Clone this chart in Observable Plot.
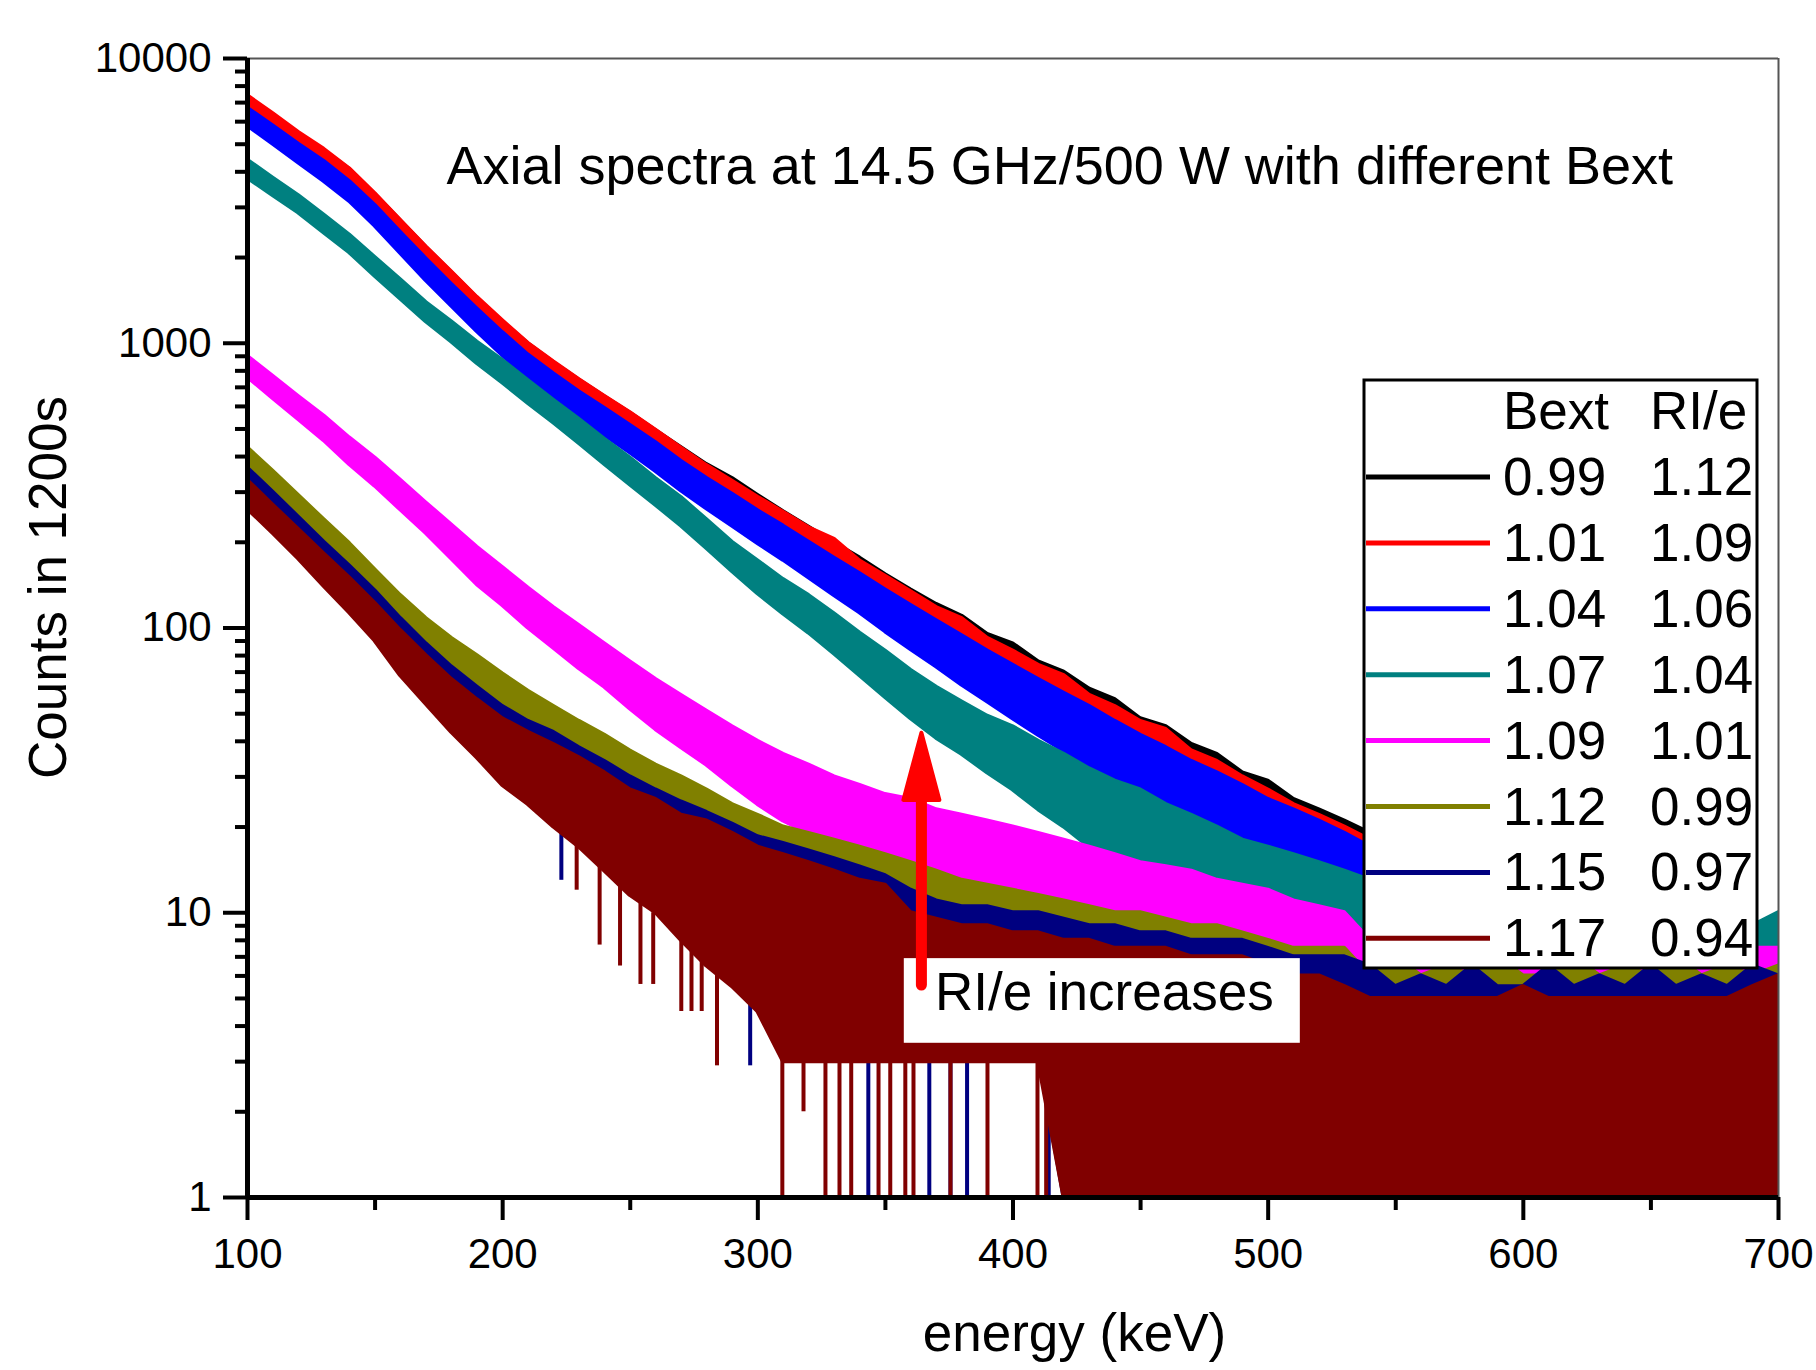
<!DOCTYPE html>
<html>
<head>
<meta charset="utf-8">
<script src="https://cdn.jsdelivr.net/npm/d3@7"></script>
<script src="https://cdn.jsdelivr.net/npm/@observablehq/plot@0.6"></script>
<style>
html, body { margin: 0; padding: 0; background: #fff; }
#chart { position: relative; width: 1816px; height: 1370px; }
</style>
</head>
<body>
<div id="chart"></div>
<script>
// ---- data (counts per 10 keV sample: lower / upper edge of each noisy spectrum) ----
const energy = [100,110,120,130,140,150,160,170,180,190,
  200,210,220,230,240,250,260,270,280,290,
  300,310,320,330,340,350,360,370,380,390,
  400,410,420,430,440,450,460,470,480,490,
  500,510,520,530,540,550,560,570,580,590,
  600,610,620,630,640,650,660,670,680,690,
  700];

const bextLabels = ["0.99","1.01","1.04","1.07","1.09","1.12","1.15","1.17"];
const rieLabels  = ["1.12","1.09","1.06","1.04","1.01","0.99","0.97","0.94"];
const seriesColors = ["#000000","#ff0000","#0000ff","#008080","#ff00ff","#808000","#000080","#800000"];

const blackHi = [7300,6350,5450,4750,4080,3330,2690,2170,1770,1440,
  1190,995,855,742,648,568,493,430,375,335,
  292,256,226,199,176,154,136,121,110,95,
  88,76,70,61,56,48,45,39,36,31,
  29,25,23,21,19,17,15.5,14,13,12,
  11,10.5,10,9.5,9,9,8.5,8,8,8,
  8];
const blackLo = [6450,5550,4750,4150,3550,2900,2330,1880,1530,1240,
  1020,850,725,625,540,470,405,350,300,262,
  228,200,174,151,131,114,99,86,75,66,
  57,50,44,38,34,29,25,22,19,17,
  15,13.5,12,11,10,9,8,7,6.5,6,
  5.5,5,4.5,4,4,3.5,3.5,3,3,3,
  3];

const redHi = [7400,6400,5500,4800,4100,3350,2700,2180,1780,1450,
  1200,1000,860,745,650,570,495,428,372,328,
  288,255,225,205,172,152,134,118,108,92,
  83,74,68,58,53,47,44,37,34,30,
  27,24,22,20,18,16,15,14,13,12,
  11,10.5,10,9.5,9,9,8.5,8,8,8,
  8];
const redLo = [6500,5600,4800,4200,3580,2920,2350,1890,1540,1250,
  1030,855,730,630,545,475,410,352,303,265,
  230,202,176,153,133,115,100,87,76,67,
  58,51,45,39,35,30,26,23,20,17.5,
  15.5,14,12.5,11,10,9,8,7,6.5,6,
  5.5,5,4.5,4,4,3.5,3.5,3,3,3,
  3];

const blueHi = [6700,5800,5000,4350,3700,3050,2450,1980,1610,1320,
  1090,910,780,675,590,515,448,385,335,295,
  258,228,200,176,155,136,120,106,94,83,
  74,66,59,53,47,42,38,34,31,28,
  25,23,21,19,17,15.5,14,13,12,11.5,
  11,10.5,10,9.5,9,9,8.5,8,8,7.5,
  7.5];
const blueLo = [5800,5000,4300,3700,3150,2580,2070,1660,1350,1100,
  905,750,640,550,475,412,355,303,262,228,
  198,173,150,130,113,97,84,73,63,55,
  48,42,37,32,28,25,22,19,17,15,
  13,12,11,10,9,8,7,6.5,6,5.5,
  5,5,4.5,4,4,3.5,3.5,3,3,3,
  3];

const tealHi = [4400,3800,3300,2820,2400,2000,1670,1390,1190,1010,
  870,740,630,540,460,395,335,287,240,200,
  172,148,130,112,96,83,71,62,55,49,
  45,40,36,32,29,27,24,22,20,18,
  17,16,15,14,13,12,11,10.5,10,10,
  9.5,9.5,9,9,9,8.5,8.5,8.5,8.5,9,
  10];
const tealLo = [3800,3300,2870,2440,2080,1720,1430,1190,1010,850,
  725,615,525,445,375,318,270,228,190,158,
  132,112,96,81,68,57,48,41,36,31,
  27,23,20,17,13,11,10,9.5,9,8,
  7,6.5,6,6,5.5,5,4.5,4.5,4,4,
  4,4,4,4,4,4,4,4,4,4,
  5];

const magentaHi = [900,765,650,555,465,395,330,275,230,192,
  163,138,118,102,88,76,66,58,51,45,
  40,36,33,30,28,26,25,23,22,21,
  20,19,18,17,16,15,14.5,14,13,12.5,
  12,11,10.5,10,8,7,8,7.5,7,8,
  7.5,7,8,7,8,7.5,7,8,7,7.5,
  7.5];
const magentaLo = [760,640,540,455,375,315,260,215,175,142,
  120,100,85,72,62,52,44,38,33,28,
  24,21,19,17,15.5,14.5,13.5,12.5,12,11,
  10.5,10,9.5,9,8.5,8,7.5,7,6.5,6,
  5.5,5,5,4.5,4,3.5,3.5,3.5,3.5,3.5,
  3.5,3.5,3.5,3.5,3.5,3.5,3.5,3.5,3.5,3.5,
  3.5];

const oliveHi = [430,355,292,240,198,160,130,108,92,80,
  69,60,53,47,42,37,33,30,27,24,
  22,20,19,18,17,16,15,14,13,12.5,
  12,11.5,11,10.5,10,10,9.5,9,9,8.5,
  8,7.5,7.5,7.5,6,7,6,6.5,6,7,
  6,6,7,6,6.5,6,7,6,6.5,6,
  6.5];
const oliveLo = [365,300,245,200,165,132,104,86,72,61,
  53,46,40,35,31,27,24,21,18,16,
  15,13,12,11,10,9,8.5,8,7.5,7,
  6.5,6,6,5.5,5.5,5,5,5,4.5,4.5,
  4,3.5,3.5,3.5,3.5,3.5,3.5,3.5,3.5,3.5,
  3.5,3.5,3.5,3.5,3.5,3.5,3.5,3.5,3.5,3.5,
  3.5];

const navyHi = [365,300,245,200,165,135,108,88,73,62,
  53,47,43,38,34,30,27,24.5,22.5,20.5,
  18.5,17.5,16.5,15.5,14.5,13.5,12,11,10.5,10.5,
  10,10,9.5,9,9,8.5,8.5,8,8,8,
  7.5,7,7,7,6.5,5.5,6,5.5,6.5,5.5,
  5.5,6.5,5.5,6,5.5,6.5,5.5,6,5.5,6.5,
  6];
const navyLo = [300,245,200,160,128,100,78,62,48,38,
  30,26,21.5,18,15,12.5,10.5,8.5,7,6,
  5,3.2,3.2,3.2,3.2,3.2,3.2,3.2,3.2,3.2,
  3.2,3.2,1,1,1,1,1,1,1,1,
  1,1,1,1,1,1,1,1,1,1,
  1,1,1,1,1,1,1,1,1,1,
  1];

const maroonHi = [330,270,222,182,150,122,98,80,66,56,
  48,43,39,35,31,27,25,22,21,19,
  17,16,15,14,13,12.5,10,9.5,9,9,
  8.5,8.5,8,8,7.5,7.5,7.5,7,7,7,
  6.5,6,6,5.5,5,5,5,5,5,5,
  5.5,5,5,5,5,5,5,5,5,5.5,
  6];
const maroonLo = [262,215,175,140,113,90,68,54,43,35,
  28,24,20,17,14,11.5,10,8,6.5,5.5,
  4.5,3,3,3,3,3,3,3,3,3,
  3,3,1,1,1,1,1,1,1,1,
  1,1,1,1,1,1,1,1,1,1,
  1,1,1,1,1,1,1,1,1,1,
  1];

// narrow downward spikes of the low-count spectra (energy, lowest count, count where the spike joins the trace)
const navySpikeE  = [223, 284, 297, 343.3, 367.2, 375.5, 382, 414];
const navySpikeLo = [13, 3.9, 2.9, 1, 1, 1, 1, 1];
const navySpikeHi = [24, 8, 6, 4, 4, 4, 4, 4];
const maroonSpikeE  = [229, 238, 246, 254, 259, 270, 274, 278, 284, 309.6, 317.9, 326.5, 332, 336.6, 347.3, 351.9, 357.8, 361, 375.5, 390, 409.6, 413];
const maroonSpikeLo = [12, 7.7, 6.5, 5.6, 5.6, 4.5, 4.5, 4.5, 2.9, 1, 2, 1, 1, 1, 1, 1, 1, 1, 1, 1, 1, 1];
const maroonSpikeHi = [20, 16, 13, 11, 10, 9, 8.5, 8, 7, 4, 4, 4, 4, 4, 4, 4, 4, 4, 4, 4, 4, 4];

const xMajor = [100,200,300,400,500,600,700];
const xMinor = [150,250,350,450,550,650];
const yMajor = [1,10,100,1000,10000];
const yMinor = [2,3,4,5,6,7,8,9,20,30,40,50,60,70,80,90,200,300,400,500,600,700,800,900,2000,3000,4000,5000,6000,7000,8000,9000];

const titleText = "Axial spectra at 14.5 GHz/500 W with different Bext";
const xTitle = "energy (keV)";
const yTitle = "Counts in 1200s";
const noteText = "RI/e increases";
// annotation anchors in data units (keV, counts)
const noteBox = {e1: 357.4, e2: 512.6, c1: 3.48, c2: 6.9, eText: 369.6, cText: 4.54};
const arrowSpec = {e: 364.3, cTail: 5.55, cHeadBase: 24.8, cTip: 42.7};

// ---- build tables ----
const his = [blackHi, redHi, blueHi, tealHi, magentaHi, oliveHi, navyHi, maroonHi];
const los = [blackLo, redLo, blueLo, tealLo, magentaLo, oliveLo, navyLo, maroonLo];
const tables = his.map((hi, i) => energy.map((e, j) => ({E: e, hi: hi[j], lo: los[i][j], s: bextLabels[i]})));
const navySpikes = navySpikeE.map((e, i) => ({E: e, lo: navySpikeLo[i], hi: navySpikeHi[i]}));
const maroonSpikes = maroonSpikeE.map((e, i) => ({E: e, lo: maroonSpikeLo[i], hi: maroonSpikeHi[i]}));

const font = "'Liberation Sans', Arial, Helvetica, sans-serif";
const area = i => Plot.areaY(tables[i], {
  x: "E", y1: "lo", y2: "hi",
  fill: seriesColors[i], stroke: seriesColors[i], strokeWidth: 4, strokeLinejoin: "round",
  clip: true
});

const svg = Plot.plot({
  width: 1816,
  height: 1370,
  marginLeft: 247,
  marginRight: 38,
  marginTop: 58,
  marginBottom: 173,
  x: {domain: [100, 700], label: null},
  y: {type: "log", domain: [1, 10000], label: null},
  style: {fontFamily: font, fontSize: "42px", color: "#000", background: "#fff", overflow: "visible"},
  marks: [
    area(0), area(1), area(2), area(3), area(4), area(5), area(6),
    Plot.ruleX(navySpikes, {x: "E", y1: "lo", y2: "hi", stroke: seriesColors[6], strokeWidth: 4, clip: true}),
    area(7),
    Plot.ruleX(maroonSpikes, {x: "E", y1: "lo", y2: "hi", stroke: seriesColors[7], strokeWidth: 4, clip: true}),
    Plot.ruleX([700], {stroke: "#555", strokeWidth: 2}),
    Plot.ruleY([10000], {stroke: "#555", strokeWidth: 2}),
    Plot.axisX({ticks: xMajor, tickSize: 23, tickPadding: 18, tickFormat: d => String(d), strokeWidth: 4, label: null, fontSize: 42}),
    Plot.axisX({ticks: xMinor, tickSize: 13, tickFormat: () => "", strokeWidth: 4, label: null}),
    Plot.axisY({ticks: yMajor, tickSize: 24, tickPadding: 12, tickFormat: d => String(d), strokeWidth: 4, label: null, fontSize: 42}),
    Plot.axisY({ticks: yMinor, tickSize: 12, tickFormat: () => "", strokeWidth: 4, label: null}),
    Plot.ruleX([100], {stroke: "#000", strokeWidth: 5}),
    Plot.ruleY([1], {stroke: "#000", strokeWidth: 5}),
    Plot.text([titleText], {frameAnchor: "top-left", textAnchor: "start", lineAnchor: "bottom", dx: 199, dy: 125, fontSize: 54, fill: "#000"}),
    Plot.text([xTitle], {frameAnchor: "bottom", textAnchor: "middle", lineAnchor: "bottom", dx: 61.5, dy: 153, fontSize: 53, fill: "#000"}),
    Plot.text([yTitle], {frameAnchor: "left", textAnchor: "middle", lineAnchor: "bottom", rotate: -90, dx: -182, dy: -40.5, fontSize: 53, fill: "#000"})
  ]
});

document.getElementById("chart").append(svg);

// ---- annotation and legend ----
const sx = svg.scale("x"), sy = svg.scale("y");
const X = v => sx.apply(v), Y = v => sy.apply(v);
const root = d3.select(svg);
const ann = root.append("g");

ann.append("rect")
  .attr("x", X(noteBox.e1)).attr("y", Y(noteBox.c2))
  .attr("width", X(noteBox.e2) - X(noteBox.e1)).attr("height", Y(noteBox.c1) - Y(noteBox.c2))
  .attr("fill", "#fff");
ann.append("text")
  .attr("x", X(noteBox.eText)).attr("y", Y(noteBox.cText))
  .attr("text-anchor", "start")
  .attr("font-family", font).attr("font-size", 53).attr("fill", "#000")
  .text(noteText);

const ax = X(arrowSpec.e);
ann.append("line")
  .attr("x1", ax).attr("x2", ax)
  .attr("y1", Y(arrowSpec.cTail)).attr("y2", Y(arrowSpec.cHeadBase) - 2)
  .attr("stroke", "#ff0000").attr("stroke-width", 11).attr("stroke-linecap", "round");
ann.append("path")
  .attr("d", `M${ax},${Y(arrowSpec.cTip)} L${ax - 18},${Y(arrowSpec.cHeadBase)} L${ax + 18},${Y(arrowSpec.cHeadBase)} Z`)
  .attr("fill", "#ff0000").attr("stroke", "#ff0000").attr("stroke-width", 4).attr("stroke-linejoin", "round");

// legend box (pixel layout)
const lg = root.append("g").attr("font-family", font).attr("font-size", 53).attr("fill", "#000").attr("text-anchor", "start");
const L = {x: 1364, y: 380, w: 393, h: 588, lineX1: 1366, lineX2: 1490, col1: 1503, col2: 1650, headY: 429, row0: 477, step: 65.9, textDy: 18};
lg.append("rect").attr("x", L.x).attr("y", L.y).attr("width", L.w).attr("height", L.h)
  .attr("fill", "#fff").attr("stroke", "#000").attr("stroke-width", 3);
lg.append("text").attr("x", L.col1).attr("y", L.headY).text("Bext");
lg.append("text").attr("x", L.col2).attr("y", L.headY).text("RI/e");
bextLabels.forEach((b, i) => {
  const yy = L.row0 + L.step * i;
  lg.append("line").attr("x1", L.lineX1).attr("x2", L.lineX2).attr("y1", yy).attr("y2", yy)
    .attr("stroke", seriesColors[i]).attr("stroke-width", 5);
  lg.append("text").attr("x", L.col1).attr("y", yy + L.textDy).text(b);
  lg.append("text").attr("x", L.col2).attr("y", yy + L.textDy).text(rieLabels[i]);
});
</script>
</body>
</html>
